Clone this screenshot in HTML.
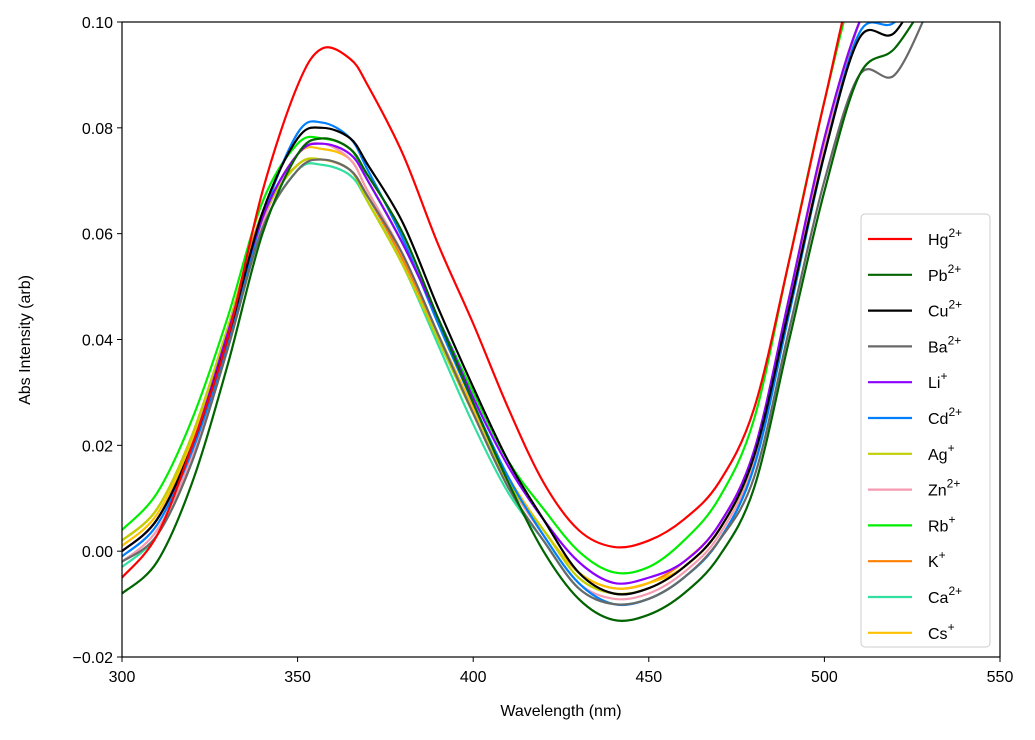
<!DOCTYPE html>
<html><head><meta charset="utf-8"><style>
body{margin:0;background:#fff}
svg{font-family:"Liberation Sans","DejaVu Sans",sans-serif;}
</style></head><body>
<svg id="chart" width="1035" height="735" xmlns="http://www.w3.org/2000/svg">
<defs><clipPath id="clip"><rect x="122" y="22" width="878" height="635"/></clipPath></defs>
<rect x="0" y="0" width="1035" height="735" fill="#fff"/>
<g id="plot" clip-path="url(#clip)"></g>
<rect x="122" y="22" width="878" height="635" fill="none" stroke="#000" stroke-width="1.2"/>
<g id="axes"></g>
<text x="561" y="716" text-anchor="middle" font-size="16">Wavelength (nm)</text>
<text transform="translate(30,340) rotate(-90)" text-anchor="middle" font-size="16">Abs Intensity (arb)</text>
<g id="legend"></g>
</svg>
<script>
const wl=[300,310,320,330,340,350,357,365,370,380,390,400,410,420,430,440,450,460,470,480,490,500,510,520,530];
const names=["Hg","Pb","Cu","Ba","Li","Cd","Ag","Zn","Rb","K","Ca","Cs"];
const charges=["2+","2+","2+","2+","+","2+","+","2+","+","+","2+","+"];
const colors=["#ff0000","#006400","#000000","#696969","#8b00ff","#0080ff","#bfcf00","#f59ab0","#00ee00","#ff8000","#30e0a0","#ffc000"];
const Hg=[-0.005,0.003,0.02,0.04,0.068,0.088,0.095,0.093,0.088,0.075,0.058,0.043,0.027,0.013,0.004,0.0008,0.002,0.006,0.013,0.027,0.055,0.085,0.112,0.12,0.12];
const Pb=[-0.008,-0.002,0.013,0.035,0.06,0.075,0.078,0.076,0.071,0.06,0.044,0.028,0.013,0.0,-0.009,-0.013,-0.012,-0.008,-0.001,0.012,0.04,0.068,0.09,0.095,0.105];
const Cu=[0.0,0.006,0.02,0.04,0.064,0.078,0.080,0.078,0.073,0.062,0.046,0.031,0.017,0.006,-0.004,-0.008,-0.007,-0.003,0.004,0.018,0.046,0.075,0.097,0.098,0.11];
const Ba=[-0.002,0.003,0.017,0.038,0.061,0.072,0.074,0.072,0.067,0.056,0.041,0.026,0.012,0.002,-0.007,-0.010,-0.009,-0.005,0.002,0.014,0.042,0.07,0.09,0.09,0.103];
const Li=[0.0,0.006,0.02,0.041,0.063,0.075,0.077,0.075,0.070,0.058,0.044,0.029,0.016,0.006,-0.002,-0.006,-0.005,-0.002,0.005,0.019,0.048,0.078,0.1,0.11,0.11];
const Cd=[-0.001,0.005,0.019,0.039,0.063,0.079,0.081,0.078,0.072,0.059,0.043,0.028,0.014,0.003,-0.006,-0.010,-0.009,-0.005,0.002,0.016,0.045,0.075,0.098,0.1,0.11];
const Ag=[0.002,0.008,0.022,0.042,0.063,0.073,0.074,0.072,0.066,0.054,0.040,0.026,0.013,0.004,-0.005,-0.008,-0.007,-0.003,0.004,0.018,0.048,0.078,0.1,0.11,0.11];
const Zn=[-0.002,0.004,0.018,0.039,0.062,0.075,0.077,0.074,0.068,0.056,0.041,0.026,0.013,0.003,-0.006,-0.009,-0.008,-0.004,0.003,0.017,0.046,0.076,0.1,0.11,0.11];
const Rb=[0.004,0.011,0.025,0.044,0.066,0.077,0.078,0.076,0.070,0.058,0.044,0.030,0.017,0.008,0.0,-0.004,-0.003,0.002,0.010,0.025,0.055,0.085,0.11,0.12,0.12];
const K=[0.002,0.008,0.022,0.042,0.064,0.073,0.074,0.072,0.067,0.055,0.041,0.027,0.014,0.004,-0.004,-0.007,-0.006,-0.002,0.005,0.019,0.048,0.078,0.1,0.11,0.11];
const Ca=[-0.003,0.003,0.017,0.038,0.061,0.072,0.073,0.071,0.066,0.054,0.039,0.024,0.011,0.002,-0.007,-0.010,-0.009,-0.005,0.002,0.016,0.045,0.075,0.1,0.11,0.11];
const Cs=[0.001,0.007,0.021,0.041,0.063,0.075,0.076,0.074,0.068,0.056,0.041,0.027,0.014,0.004,-0.004,-0.007,-0.006,-0.003,0.004,0.018,0.047,0.077,0.1,0.11,0.11];
const xTicks=[300,350,400,450,500,550];
const yTicks=[-0.02,0.0,0.02,0.04,0.06,0.08,0.10];
const yTickLabels=["\u22120.02","0.00","0.02","0.04","0.06","0.08","0.10"];
const series=[Hg,Pb,Cu,Ba,Li,Cd,Ag,Zn,Rb,K,Ca,Cs];

const NS="http://www.w3.org/2000/svg";
const x=v=>122+(v-300)/250*878;
const y=v=>657-(v+0.02)/0.12*635;
function mk(tag,attrs,parent){const e=document.createElementNS(NS,tag);for(const k in attrs)e.setAttribute(k,attrs[k]);parent.appendChild(e);return e;}
const axes=document.getElementById('axes');
xTicks.forEach(t=>{
  const l=mk('line',{x1:x(t),x2:x(t),y1:657,y2:662,stroke:'#000'},axes);
  
  
  const tx=mk('text',{x:x(t),y:682,'text-anchor':'middle','font-size':16},axes);
  tx.textContent=t;
  
  
});
yTicks.forEach((t,i)=>{
  const l=mk('line',{x1:117,x2:122,y1:y(t),y2:y(t),stroke:'#000'},axes);
  
  
  const tx=mk('text',{x:113,y:y(t)+6,'text-anchor':'end','font-size':16},axes);
  tx.textContent=yTickLabels[i];
  
  
});
function pathFor(vals){
  const p=wl.map((w,i)=>[x(w),y(vals[i])]);
  let d='M'+p[0][0]+','+p[0][1];
  for(let i=0;i<p.length-1;i++){
    const p0=p[Math.max(0,i-1)],p1=p[i],p2=p[i+1],p3=p[Math.min(p.length-1,i+2)];
    const c1=[p1[0]+(p2[0]-p0[0])/6,p1[1]+(p2[1]-p0[1])/6];
    const c2=[p2[0]-(p3[0]-p1[0])/6,p2[1]-(p3[1]-p1[1])/6];
    d+=' C'+c1+' '+c2+' '+p2;
  }
  return d;
}
const plot=document.getElementById('plot');
const order=[10,9,8,11,7,6,5,4,3,2,1,0];
order.forEach(i=>{
  const pa=mk('path',{d:pathFor(series[i]),fill:'none',stroke:colors[i],'stroke-width':2.2},plot);
  
  
});
const lg=document.getElementById('legend');
const box=mk('rect',{x:861,y:214,width:129,height:433,rx:4,fill:'#fff','fill-opacity':0.85,stroke:'#ccc'},lg);


names.forEach((n,i)=>{
  const yy=239+i*35.8;
  const g=mk('g',{},lg);
  
  
  mk('line',{x1:868,x2:912,y1:yy,y2:yy,stroke:colors[i],'stroke-width':2.2},g);
  const t=mk('text',{x:928,y:yy+6,'font-size':16},g);
  t.textContent=n;
  const s=mk('tspan',{dy:-8,'font-size':12},t);
  s.textContent=charges[i];
});
</script>
</body></html>
